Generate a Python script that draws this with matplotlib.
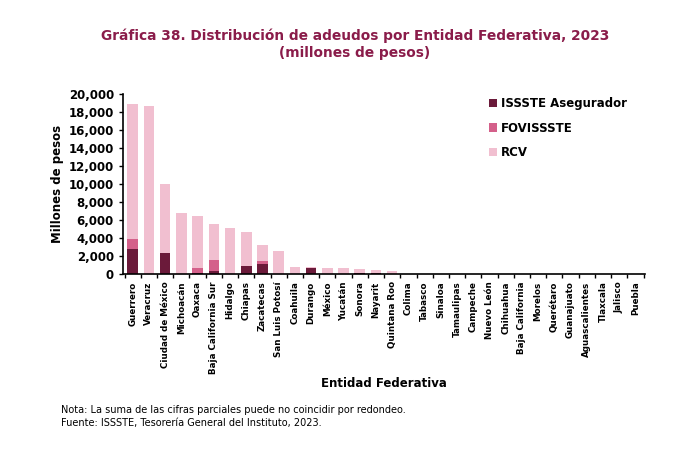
import numpy as np
import matplotlib.pyplot as plt
from matplotlib.ticker import FuncFormatter, FixedLocator

# datos (millones de pesos)
estados = ["Guerrero", "Veracruz", "Ciudad de México", "Michoacán", "Oaxaca",
           "Baja California Sur", "Hidalgo", "Chiapas", "Zacatecas",
           "San Luis Potosí", "Coahuila", "Durango", "México", "Yucatán",
           "Sonora", "Nayarit", "Quintana Roo", "Colima", "Tabasco", "Sinaloa",
           "Tamaulipas", "Campeche", "Nuevo León", "Chihuahua",
           "Baja California", "Morelos", "Querétaro", "Guanajuato",
           "Aguascalientes", "Tlaxcala", "Jalisco", "Puebla"]
asegurador = [2850, 0, 2330, 0, 100, 370, 0, 950, 1140, 0, 0, 720, 0, 0, 150,
              150, 0, 0, 0, 0, 0, 0, 0, 0, 0, 0, 0, 0, 0, 0, 0, 0]
fovissste = [1100, 0, 0, 0, 550, 1180, 0, 0, 360, 0, 0, 0, 0, 0, 0, 0, 0, 0,
             0, 0, 0, 0, 0, 0, 0, 0, 0, 0, 0, 0, 0, 0]
rcv = [14950, 18650, 7730, 6840, 5850, 4000, 5100, 3750, 1750, 2600, 850, 60,
       750, 720, 480, 330, 400, 40, 30, 25, 20, 15, 15, 10, 10, 10, 5, 5, 5,
       5, 5, 5]

c_aseg = "#6b1a3a"
c_fov = "#d4608a"
c_rcv = "#f1bfd0"
c_titulo = "#8a1c4a"

plt.rcParams['font.family'] = ['DejaVu Sans']

fig = plt.figure(figsize=(6.96, 4.5), dpi=100)
ax = fig.add_axes([0.1767, 0.3904, 0.7503, 0.4007])

x = np.arange(len(estados))
a = np.array(asegurador)
f = np.array(fovissste)
r = np.array(rcv)
ax.bar(x, a, width=0.65, color=c_aseg, label="ISSSTE Asegurador")
ax.bar(x, f, width=0.65, bottom=a, color=c_fov, label="FOVISSSTE")
ax.bar(x, r, width=0.65, bottom=a + f, color=c_rcv, label="RCV")

ax.set_xlim(-0.6, len(estados) - 0.4)
ax.set_ylim(0, 20000)
ax.set_yticks(range(0, 20001, 2000))
ax.yaxis.set_major_formatter(FuncFormatter(lambda v, p: f"{int(v):,}"))
ax.set_xticks(x)
ax.set_xticklabels(estados, rotation=90, fontsize=6.3, fontweight='bold')
ax.tick_params(axis='x', length=0, pad=5)
ax.xaxis.set_minor_locator(FixedLocator(np.arange(-0.5, len(estados), 1)))
ax.tick_params(axis='x', which='minor', length=3, width=1)
ax.tick_params(axis='y', labelsize=8.5, length=3, width=1)
for lab in ax.get_yticklabels():
    lab.set_fontweight('bold')

for s in ['top', 'right']:
    ax.spines[s].set_visible(False)
ax.spines['left'].set_linewidth(1.2)
ax.spines['bottom'].set_linewidth(1.2)

ax.set_ylabel("Millones de pesos", fontsize=8.5, fontweight='bold', labelpad=3)
ax.set_xlabel("Entidad Federativa", fontsize=8.5, fontweight='bold', labelpad=2)

leg = ax.legend(loc='upper left', bbox_to_anchor=(0.68, 1.04), frameon=False,
                fontsize=8.5, handlelength=0.7, handleheight=0.7,
                handletextpad=0.3, labelspacing=0.95)
for t in leg.get_texts():
    t.set_fontweight('bold')

fig.text(0.51, 0.92, "Gráfica 38. Distribución de adeudos por Entidad Federativa, 2023",
         ha='center', va='center', fontsize=9.9, fontweight='bold', color=c_titulo)
fig.text(0.51, 0.882, "(millones de pesos)", ha='center', va='center',
         fontsize=9.9, fontweight='bold', color=c_titulo)

fig.text(0.088, 0.088, "Nota: La suma de las cifras parciales puede no coincidir por redondeo.",
         fontsize=7, va='center')
fig.text(0.088, 0.06, "Fuente: ISSSTE, Tesorería General del Instituto, 2023.",
         fontsize=7, va='center')

fig.savefig("out.png", dpi=100)
